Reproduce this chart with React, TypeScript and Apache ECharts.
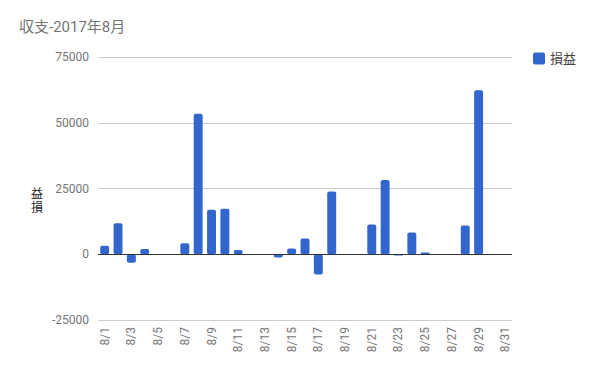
import React, { useEffect, useRef } from "react";
import * as echarts from "echarts";

const categories = [
  "8/1","8/2","8/3","8/4","8/5","8/6","8/7","8/8","8/9","8/10",
  "8/11","8/12","8/13","8/14","8/15","8/16","8/17","8/18","8/19","8/20",
  "8/21","8/22","8/23","8/24","8/25","8/26","8/27","8/28","8/29","8/30","8/31",
];
const profit = [
  3200, 11800, -3200, 2000, 0, 0, 4200, 53400, 16900, 17300,
  1600, 0, 0, -1200, 2200, 6000, -7700, 23900, 0, 0,
  11300, 28200, -500, 8300, 700, 0, 0, 10900, 62400, 0, 0,
];
const yTicks = { min: -25000, max: 75000, interval: 25000 };
const seriesName = "損益";
const titleText = "収支-2017年8月";

const FONT = "Roboto, 'Noto Sans CJK JP', sans-serif";

export default function App() {
  const ref = useRef<HTMLDivElement>(null);
  useEffect(() => {
    const chart = echarts.init(ref.current!, null, { renderer: "svg" });
    // axis title shown as upright stacked glyphs, reading bottom-to-top (益 above 損)
    const stackedName = seriesName.split("").reverse().join("\n");
    chart.setOption({
      animation: false,
      backgroundColor: "#ffffff",
      textStyle: { fontFamily: FONT },
      title: {
        text: titleText,
        left: 14,
        top: 14,
        textStyle: { fontFamily: FONT, fontSize: 15, fontWeight: "normal", color: "#757575" },
      },
      legend: {
        data: [seriesName],
        left: 533,
        top: 52,
        padding: 0,
        itemWidth: 12,
        itemHeight: 12,
        itemGap: 6,
        icon: "path://M2,0 H10 Q12,0 12,2 V10 Q12,12 10,12 H2 Q0,12 0,10 V2 Q0,0 2,0 Z",
        textStyle: { fontFamily: FONT, fontSize: 13, color: "#444444" },
      },
      grid: { left: 98, right: 88, top: 57, bottom: 51, containLabel: false },
      xAxis: {
        type: "category",
        data: categories,
        axisLine: { show: false, onZero: false },
        axisTick: { show: false },
        axisLabel: {
          rotate: 90,
          interval: 1,
          margin: 7,
          fontFamily: FONT,
          fontSize: 12,
          color: "#757575",
        },
      },
      yAxis: {
        type: "value",
        min: yTicks.min,
        max: yTicks.max,
        interval: yTicks.interval,
        axisLine: { show: false },
        axisTick: { show: false },
        splitLine: { lineStyle: { color: "#cccccc", width: 1 } },
        axisLabel: {
          margin: 9,
          fontFamily: FONT,
          fontSize: 12,
          color: "#757575",
          formatter: (v: number) => String(v),
        },
      },
      graphic: [
        {
          type: "text",
          x: 37,
          y: 201,
          style: {
            text: stackedName,
            fontFamily: FONT,
            fontSize: 12,
            lineHeight: 14,
            fill: "#222222",
            align: "center",
            verticalAlign: "middle",
          },
        },
      ],
      series: [
        {
          name: seriesName,
          type: "bar",
          data: profit,
          barWidth: "67%",
          itemStyle: { color: "#3366cc", borderRadius: 2 },
          markLine: {
            silent: true,
            symbol: ["none", "none"],
            label: { show: false },
            lineStyle: { color: "#333333", type: "solid", width: 1 },
            data: [{ yAxis: 0 }],
          },
        },
      ],
    });
    return () => chart.dispose();
  }, []);
  return <div ref={ref} style={{ width: 600, height: 371, position: "absolute", left: 0, top: 0 }} />;
}
